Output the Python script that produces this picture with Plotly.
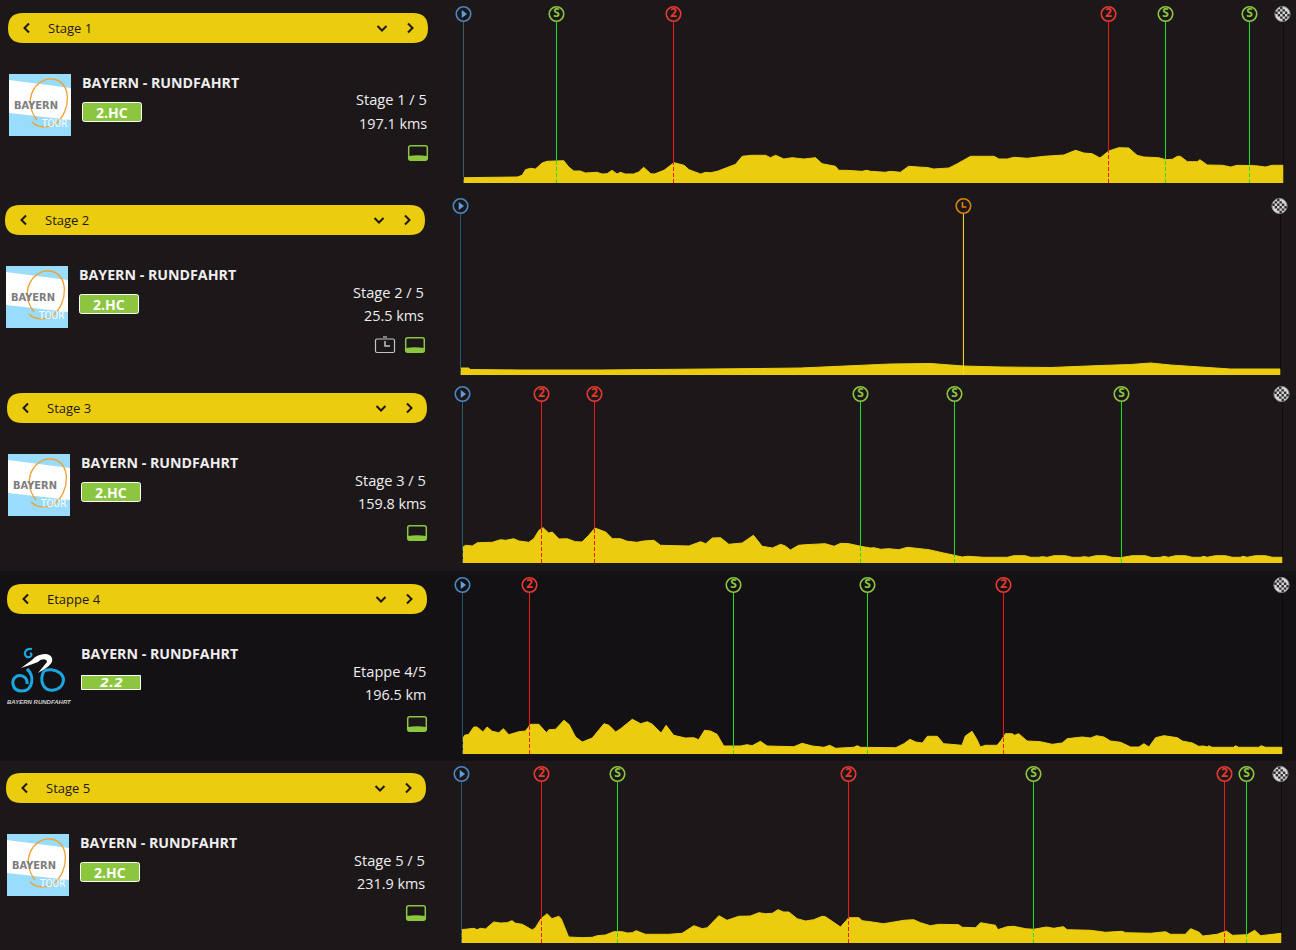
import plotly.graph_objects as go

W, H = 1296, 950
BG = "#1c181a"; BG4 = "#141115"; YEL = "#eccc0e"; GRN = "#8cc63f"; TXT = "#f0eeee"; DARK = "#1c181a"
FONT = "Open Sans"
CONDENSED = "DejaVu Sans Condensed"

stage_labels = ["Stage 1", "Stage 2", "Stage 3", "Etappe 4", "Stage 5"]
race_names = ["BAYERN - RUNDFAHRT"] * 5
stage_counts = ["Stage 1 / 5", "Stage 2 / 5", "Stage 3 / 5", "Etappe 4/5", "Stage 5 / 5"]
distance_labels = ["197.1 kms", "25.5 kms", "159.8 kms", "196.5 km", "231.9 kms"]
class_labels = ["2.HC", "2.HC", "2.HC", "2.2", "2.HC"]
stage_lengths = [197.1, 25.5, 159.8, 196.5, 231.9]

stage1_km = [0.1,0.9,12.9,14.1,14.9,16.1,17.3,18.9,20.1,24.1,25.3,26.5,28.1,29.3,30.9,32.1,33.3,34.5,35.7,36.9,37.7,38.9,40.9,42.1,43.3,45.0,45.9,48.2,50.6,53.0,54.2,57.0,58.2,59.4,61.0,63.4,65.4,67.0,69.4,72.6,73.8,75.0,77.0,79.0,81.8,84.6,86.2,89.4,90.2,91.8,95.8,97.0,97.8,101.4,102.6,105.0,107.0,109.4,111.8,113.0,116.7,118.7,121.9,127.5,128.7,130.7,132.3,135.5,139.5,144.3,147.1,149.1,151.1,153.0,155.1,157.5,159.9,161.9,163.5,167.1,168.8,170.4,171.6,172.3,174.0,176.4,177.0,178.8,182.4,184.4,186.0,190.4,192.8,194.4,197.1]
stage1_elev = [53,53,60,77,133,147,140,200,217,223,160,120,120,100,107,107,90,93,127,90,107,90,90,110,157,93,90,127,203,177,133,90,107,103,117,153,187,267,277,277,253,277,240,253,240,253,193,167,127,127,117,127,117,107,117,107,167,160,153,140,150,193,267,267,240,240,257,247,267,280,327,300,293,250,320,353,350,277,260,253,233,237,267,267,213,213,233,180,177,160,177,173,160,177,177]
stage1_marks_km = [0, 22.35, 50.48, 155.04, 168.74, 188.93, 197.1]
stage1_marks_elev = [53, 223, 203, 320, 233, 175, 177]
stage1_marks_type = ["start", "S", "2", "2", "S", "S", "finish"]

stage2_km = [0,0.25,0.31,1.87,4.35,7.46,9.33,10.57,12.13,13.37,14.62,15.64,16.79,18.35,19.9,20.84,21.46,22.08,23.01,23.95,25.5]
stage2_elev = [70,70,55,50,50,55,65,70,90,110,115,90,80,75,95,105,120,100,80,60,60]
stage2_marks_km = [0, 15.64, 25.5]
stage2_marks_elev = [70, 90, 60]
stage2_marks_type = ["start", "time", "finish"]

stage3_km = [0.1,0.6,1.9,2.9,5.8,7.4,8.4,10.0,11.0,12.9,13.9,14.9,15.7,16.8,17.5,18.8,20.4,22.0,23.3,24.6,25.8,26.9,27.9,29.2,30.8,32.1,34.0,35.3,37.3,38.6,44.1,46.4,47.4,48.7,50.3,51.9,54.5,56.7,58.4,60.4,62.0,62.9,63.9,65.5,66.8,70.7,72.4,73.7,75.3,77.6,79.5,80.2,81.5,83.1,85.0,86.7,88.3,90.9,93.5,95.8,97.4,98.4,101.6,106.2,107.4,109.7,110.7,112.3,113.0,114.0,115.2,117.5,118.8,120.4,121.1,122.1,123.4,125.3,126.6,128.2,130.5,133.1,134.4,136.0,136.7,137.6,138.9,140.9,142.2,143.8,144.5,145.1,146.7,148.7,150.0,151.6,152.1,152.9,154.5,156.5,157.8,159.8]
stage3_elev = [160,177,170,203,207,233,227,243,220,207,243,327,353,300,310,240,243,213,210,277,350,327,310,243,243,217,207,220,227,177,170,213,193,250,253,187,200,277,167,150,187,170,130,177,183,193,167,197,193,167,150,153,137,143,133,157,150,133,103,80,60,67,57,57,73,73,57,57,63,57,73,73,57,57,63,57,73,73,57,53,73,73,53,57,67,57,73,73,57,57,67,57,73,73,57,57,67,57,73,73,57,57]
stage3_marks_km = [0, 15.40, 25.72, 77.56, 95.88, 128.42, 159.8]
stage3_marks_elev = [160, 345, 345, 167, 80, 55, 57]
stage3_marks_type = ["start", "2", "2", "S", "S", "S", "finish"]

stage4_km = [0.1,0.5,1.5,2.7,3.5,4.9,5.9,7.1,8.7,9.8,11.1,12.3,13.5,15.1,16.3,18.3,20.1,20.7,22.3,24.3,25.5,27.1,28.7,31.1,32.3,33.9,35.1,36.7,37.9,40.7,42.7,44.3,45.5,47.6,48.8,50.6,53.4,55.4,56.6,58.0,59.4,61.0,62.6,66.6,68.2,69.4,71.4,73.0,79.4,81.4,83.8,86.6,88.0,89.4,93.8,94.6,95.4,100.2,101.4,103.8,105.8,107.2,108.6,110.2,111.4,113.8,115.3,118.5,119.7,120.5,122.1,123.3,124.1,125.3,128.1,129.1,130.1,131.7,132.3,133.3,135.3,138.5,141.3,143.7,144.9,148.5,150.5,151.9,153.7,155.3,157.7,160.1,162.1,163.3,164.5,166.1,168.1,171.3,172.5,174.9,176.4,177.6,178.5,178.8,179.6,184.8,185.2,186.0,190.8,191.4,192.4,196.5]
stage4_elev = [153,187,197,270,270,220,270,227,213,253,193,210,223,230,297,297,213,243,247,337,297,170,120,160,220,303,287,220,253,347,303,323,297,210,287,187,160,163,143,237,230,197,80,80,93,83,127,80,73,107,80,67,87,57,67,83,67,63,60,63,103,147,120,110,177,177,103,87,87,180,227,143,70,87,87,137,203,203,187,203,130,123,97,110,153,170,160,183,170,130,117,70,70,103,70,163,183,163,130,110,77,80,70,83,67,67,83,67,67,83,67,67]
stage4_marks_km = [0, 16.06, 64.94, 97.05, 129.64, 196.5]
stage4_marks_elev = [153, 290, 80, 63, 170, 67]
stage4_marks_type = ["start", "2", "S", "S", "2", "finish"]

stage5_km = [0,2.5,3.5,4.4,5.4,6.8,9.1,11.0,12.9,14.3,15.3,17.2,20.0,20.9,22.5,24.2,25.6,27.5,28.2,30.3,34.1,37.0,38.4,40.7,43.1,45.4,46.9,48.3,49.4,52.0,58.6,62.4,65.7,68.1,69.5,72.8,75.1,78.4,81.7,84.1,86.0,87.9,89.5,91.1,92.6,94.9,97.3,99.6,102.0,102.9,107.2,109.5,112.4,113.3,114.7,116.1,118.5,119.4,122.3,125.1,127.9,129.8,132.6,135.0,140.6,141.6,145.4,146.8,151.0,151.7,154.3,156.2,159.5,161.8,165.4,167.5,170.2,171.3,177.9,182.1,186.8,187.8,194.9,199.1,200.5,204.7,206.2,208.5,209.6,213.7,216.3,218.0,222.2,224.3,226.0,228.8,231.9]
stage5_elev = [133,140,147,133,147,140,210,200,203,223,197,187,130,153,243,293,243,267,243,60,53,57,73,80,113,113,100,103,123,87,87,97,173,143,153,273,227,267,270,303,293,297,333,310,310,243,220,233,267,263,160,253,253,223,220,210,197,193,210,227,233,203,173,187,183,157,153,203,177,133,163,167,143,137,160,147,163,133,127,107,117,103,97,113,87,87,143,110,70,87,120,77,83,127,73,83,97]
stage5_marks_km = [0, 22.62, 44.12, 109.45, 161.76, 215.78, 222.0, 231.9]
stage5_marks_elev = [133, 245, 113, 250, 137, 115, 83, 97]
stage5_marks_type = ["start", "2", "S", "2", "S", "2", "S", "finish"]

stages_km = [stage1_km, stage2_km, stage3_km, stage4_km, stage5_km]
stages_elev = [stage1_elev, stage2_elev, stage3_elev, stage4_elev, stage5_elev]
marks_km = [stage1_marks_km, stage2_marks_km, stage3_marks_km, stage4_marks_km, stage5_marks_km]
marks_elev = [stage1_marks_elev, stage2_marks_elev, stage3_marks_elev, stage4_marks_elev, stage5_marks_elev]
marks_type = [stage1_marks_type, stage2_marks_type, stage3_marks_type, stage4_marks_type, stage5_marks_type]

# panel layout in page pixels
offsets = [(0, 0), (-3, 192), (-1, 380), (-1, 571), (-2, 760)]
panel_tops = [0, 192, 380, 571, 761]
panel_bots = [192, 380, 571, 761, 950]
panel_bg = [BG, BG, BG, BG4, BG]
ICON_ELEV = 1690
LINE_COL = {"start": "#2f9cbf", "S": "#1fe01f", "2": "#f01818", "time": "#ffe21a", "finish": "#000000"}
RING_COL = {"start": "#4a86c0", "S": GRN, "2": "#e83a30", "time": "#e0820f"}


def px(x): return x / W
def py(y): return 1 - y / H
def pt(x, y): return f"{px(x):.5f},{py(y):.5f}"


def rrect(x0, y0, x1, y1, r):
    return (f"M{pt(x0+r,y0)} L{pt(x1-r,y0)} Q{pt(x1,y0)} {pt(x1,y0+r)} L{pt(x1,y1-r)} Q{pt(x1,y1)} {pt(x1-r,y1)} "
            f"L{pt(x0+r,y1)} Q{pt(x0,y1)} {pt(x0,y1-r)} L{pt(x0,y0+r)} Q{pt(x0,y0)} {pt(x0+r,y0)} Z")


def poly(points, close=False):
    s = "M" + " L".join(pt(x, y) for x, y in points)
    return s + (" Z" if close else "")


shapes, annos = [], []


def add_path(path, fill=None, line=None, lw=0, layer="above"):
    shapes.append(dict(type="path", xref="paper", yref="paper", path=path, layer=layer,
                       fillcolor=fill if fill else "rgba(0,0,0,0)",
                       line=dict(color=line if line else "rgba(0,0,0,0)", width=lw)))


def add_text(x, y, text, size, color=TXT, anchor="left", weight=400, family=FONT, italic=False):
    annos.append(dict(xref="paper", yref="paper", x=px(x), y=py(y), text=text, showarrow=False, borderpad=0,
                      xanchor=anchor, yanchor="middle", align=anchor,
                      font=dict(size=size, color=color, family=family, weight=weight,
                                style="italic" if italic else "normal")))


def bayern_logo(dx, dy):
    add_path(rrect(9+dx, 74+dy, 71+dx, 136+dy, 0.01), fill="#99dcfb")
    add_path(poly([(9+dx, 80+dy), (71+dx, 88+dy), (71+dx, 120+dy), (9+dx, 113+dy)], True), fill="#ffffff")
    add_path(f"M{pt(37+dx,120+dy)} C{pt(22+dx,100+dy)} {pt(35+dx,78+dy)} {pt(52+dx,79+dy)} "
             f"C{pt(72+dx,80+dy)} {pt(72+dx,112+dy)} {pt(55+dx,124+dy)} C{pt(48+dx,128+dy)} {pt(38+dx,128+dy)} {pt(32+dx,122+dy)}",
             line="#f0a030", lw=1.3)
    add_text(35.5+dx, 105.5+dy, "BAYERN", 11, color="#7d7d7d", anchor="center", weight=700, family=CONDENSED)
    add_text(54+dx, 123.5+dy, "TOUR", 10, color="#ffffff", anchor="center", family=CONDENSED)


def cyclist_logo():
    blue = "#1ba6e0"
    add_path(f"M{pt(27,669)} C{pt(35,676)} {pt(33,691)} {pt(22,691)} C{pt(12,691)} {pt(10,680)} {pt(17,676)} "
             f"C{pt(22,674)} {pt(28,678)} {pt(27,684)}", line=blue, lw=3)
    add_path(f"M{pt(44,671)} C{pt(39,680)} {pt(43,692)} {pt(54,690)} C{pt(64,688)} {pt(66,678)} {pt(60,673)} "
             f"C{pt(55,669)} {pt(48,669)} {pt(44,671)}", line=blue, lw=3)
    add_path(f"M{pt(32,649)} C{pt(25,648)} {pt(23,654)} {pt(27,657)} C{pt(31,658)} {pt(33,654)} {pt(30,653)}", line=blue, lw=2.2)
    add_path(f"M{pt(21,668)} L{pt(32,660)} C{pt(38,653)} {pt(50,652)} {pt(52,658)} C{pt(54,664)} {pt(46,668)} {pt(38,673)} "
             f"L{pt(47,662)} C{pt(47,659)} {pt(42,658)} {pt(38,662)} L{pt(30,665)} Z", fill="#ffffff")
    add_text(39, 702, "BAYERN RUNDFAHRT", 6, color="#cfcfcf", anchor="center", weight=700, family="Liberation Sans", italic=True)


def profile_icon(dx, dy):
    add_path(rrect(408.7+dx, 145.7+dy, 427.3+dx, 160.3+dy, 2), fill=DARK, line=GRN, lw=1.5)
    add_path(f"M{pt(409+dx,156+dy)} Q{pt(418+dx,154.5+dy)} {pt(427+dx,156+dy)} L{pt(427+dx,160+dy)} L{pt(409+dx,160+dy)} Z", fill=GRN)


def clock_icon():
    g = "#c4c4c4"
    add_path(rrect(375.5, 339, 394.5, 352.5, 1.5), line=g, lw=1.2)
    add_path(poly([(383, 337), (387, 337)]), line=g, lw=1.2)
    add_path(poly([(385, 341), (385, 346), (390, 346)]), line=g, lw=1.5)


def checker(cx, cy):
    shapes.append(dict(type="circle", xref="paper", yref="paper", x0=px(cx-7.6), x1=px(cx+7.6), y0=py(cy+7.6), y1=py(cy-7.6),
                       fillcolor="#d8d8d8", line=dict(color="#8a8a8a", width=1)))
    s = 2.4
    p = ""
    for i in range(-4, 4):
        for j in range(-4, 4):
            if (i + j) % 2 == 0:
                x, y = cx + i*s, cy + j*s
                if (x + s/2 - cx)**2 + (y + s/2 - cy)**2 < 46:
                    p += poly([(x, y), (x+s, y), (x+s, y+s), (x, y+s)], True) + " "
    add_path(p, fill="#303030")


fig = go.Figure()
layout_axes = {}
for i in range(5):
    dx, dy = offsets[i]
    # panel background
    shapes.append(dict(type="rect", xref="paper", yref="paper", x0=0, x1=1, y0=py(panel_bots[i]), y1=py(panel_tops[i]),
                       fillcolor=panel_bg[i], line=dict(width=0), layer="below"))
    # selector pill
    add_path(rrect(8+dx, 13+dy, 428+dx, 43+dy, 15), fill=YEL)
    add_path(poly([(29+dx, 23.5+dy), (24.5+dx, 28+dy), (29+dx, 32.5+dy)]), line=DARK, lw=2)
    add_path(poly([(377.5+dx, 26+dy), (382+dx, 30.5+dy), (386.5+dx, 26+dy)]), line=DARK, lw=2)
    add_path(poly([(408+dx, 23.5+dy), (412.5+dx, 28+dy), (408+dx, 32.5+dy)]), line=DARK, lw=2)
    add_text(47+dx, 28+dy, stage_labels[i], 13, color=DARK)
    # logo and texts
    if i == 3:
        cyclist_logo()
    else:
        bayern_logo(dx, dy)
    add_text(81+dx, 82.5+dy, race_names[i], 14.2, weight=700)
    if i == 3:
        add_path(poly([(81.5, 675.5), (140.5, 675.5), (140.5, 689.5), (81.5, 689.5)], True), fill=GRN, line="#ffffff", lw=1)
        add_text(111, 682.5, class_labels[i], 13, color="#ffffff", anchor="center", weight=700, italic=True, family="DejaVu Sans")
    else:
        add_path(rrect(82.5+dx, 102.5+dy, 141.5+dx, 121.5+dy, 2), fill=GRN, line="#ffffff", lw=1)
        add_text(112+dx, 112+dy, class_labels[i], 14, color="#ffffff", anchor="center", weight=700)
    add_text(428+dx, 99.5+dy, stage_counts[i], 14.6, anchor="right")
    add_text(428+dx, 123.5+dy, distance_labels[i], 14.4, anchor="right")
    profile_icon(dx, dy)
    if i == 1:
        clock_icon()

    # profile axes
    x0 = 463.5 + dx
    base = 183 + dy
    suffix = "" if i == 0 else str(i + 1)
    layout_axes["xaxis" + suffix] = dict(domain=[px(x0), px(x0 + 820)], range=[0, stage_lengths[i]], visible=False,
                                         fixedrange=True, anchor="y" + suffix)
    layout_axes["yaxis" + suffix] = dict(domain=[py(base), py(base - 180)], range=[0, 1800], visible=False,
                                         fixedrange=True, anchor="x" + suffix)
    xa, ya = "x" + suffix, "y" + suffix
    fig.add_trace(go.Scatter(x=stages_km[i], y=stages_elev[i], xaxis=xa, yaxis=ya, mode="lines", fill="tozeroy",
                             fillcolor=YEL, line=dict(color=YEL, width=1), hoverinfo="skip", showlegend=False))
    for km, el, t in zip(marks_km[i], marks_elev[i], marks_type[i]):
        col = LINE_COL[t]
        if i == 0 and t == "start":
            col = "#6f97a6"
        fig.add_trace(go.Scatter(x=[km, km], y=[el, ICON_ELEV], xaxis=xa, yaxis=ya, mode="lines",
                                 line=dict(color=col, width=1), hoverinfo="skip", showlegend=False))
        if t != "finish":
            fig.add_trace(go.Scatter(x=[km, km], y=[0, el], xaxis=xa, yaxis=ya, mode="lines",
                                     line=dict(color=col, width=1, dash="4px,2px"), hoverinfo="skip", showlegend=False))
    for km, t in zip(marks_km[i], marks_type[i]):
        if t == "finish":
            checker(x0 + 820 - 1, base - 169)
            continue
        fig.add_trace(go.Scatter(x=[km], y=[ICON_ELEV], xaxis=xa, yaxis=ya,
                                 mode="markers+text" if t in ("S", "2") else "markers",
                                 text=[t] if t in ("S", "2") else None, textposition="middle center",
                                 textfont=dict(size=12, color=RING_COL[t], family=FONT, weight=700),
                                 marker=dict(size=14.5, color=panel_bg[i], line=dict(color=RING_COL[t], width=1.6)),
                                 hoverinfo="skip", showlegend=False, cliponaxis=False))
        if t == "start":
            fig.add_trace(go.Scatter(x=[km], y=[ICON_ELEV], xaxis=xa, yaxis=ya, mode="markers",
                                     marker=dict(size=7, symbol="triangle-right", color="#5fa0dc"),
                                     hoverinfo="skip", showlegend=False, cliponaxis=False))
        if t == "time":
            xc = x0 + 503
            yc = base - 169
            add_path(poly([(xc-1, yc-4), (xc-1, yc+1), (xc+3, yc+1)]), line=RING_COL[t], lw=1.6)

fig.update_layout(width=W, height=H, margin=dict(l=0, r=0, t=0, b=0, pad=0), paper_bgcolor=BG, plot_bgcolor="rgba(0,0,0,0)",
                  shapes=shapes, annotations=annos, showlegend=False, font=dict(family=FONT), **layout_axes)
fig.write_html("out.html", config={"displayModeBar": False, "responsive": False},
               post_script="document.body.style.margin='0';document.body.style.background='#1c181a';document.documentElement.style.overflow='hidden';")
